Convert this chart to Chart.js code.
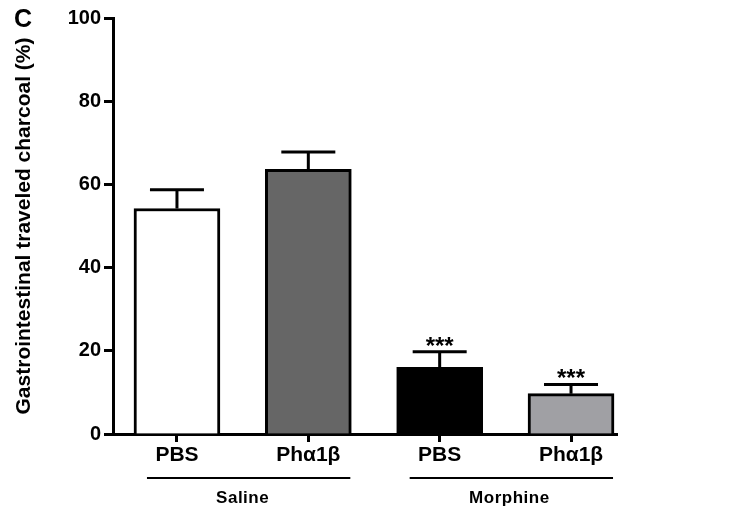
<!DOCTYPE html>
<html lang="en">
<head>
    <meta charset="UTF-8">
    <title>Gastrointestinal transit</title>
    <script src="https://cdn.jsdelivr.net/npm/chart.js"></script>
    <style>
        html, body { margin: 0; padding: 0; background: #fff; }
        #wrap { width: 729px; height: 510px; position: relative; }
    </style>
</head>
<body>
    <div id="wrap"><canvas id="transitChart"></canvas></div>

    <script>
        // Groups and treatments
        const treatments = ['PBS', 'Ph\u03B11\u03B2', 'PBS', 'Ph\u03B11\u03B2'];
        const groups = ['Saline', 'Morphine'];
        const positions = [1, 2, 3, 4];

        // Charcoal travel (%) and SEM
        const means = [54.2, 63.6, 16.0, 9.7];
        const sems = [4.5, 4.2, 3.8, 2.2];
        const marks = ['', '', '***', '***'];
        const barColors = ['#ffffff', '#666666', '#000000', '#a0a0a4'];

        const yTicks = [0, 20, 40, 60, 80, 100];

        const FONT = 'Arial, "Liberation Sans", sans-serif';

        // Error bars, significance stars, group underlines and labels
        const annotations = {
            id: 'annotations',
            afterDatasetsDraw(chart) {
                const ctx = chart.ctx;
                const x = chart.scales.x;
                const y = chart.scales.y;
                const bars = chart.getDatasetMeta(0).data;
                ctx.save();
                ctx.strokeStyle = '#000';
                ctx.fillStyle = '#000';
                ctx.lineWidth = 3;
                bars.forEach((bar, i) => {
                    const top = y.getPixelForValue(means[i]);
                    const errTop = y.getPixelForValue(means[i] + sems[i]);
                    ctx.beginPath();
                    ctx.moveTo(bar.x, top);
                    ctx.lineTo(bar.x, errTop);
                    ctx.moveTo(bar.x - 27, errTop);
                    ctx.lineTo(bar.x + 27, errTop);
                    ctx.stroke();
                    if (marks[i]) {
                        ctx.font = 'bold 24px ' + FONT;
                        ctx.textAlign = 'center';
                        ctx.textBaseline = 'alphabetic';
                        ctx.fillText(marks[i], bar.x, errTop + 2);
                    }
                });

                // group underline + name under each pair of treatments
                const lineY = chart.chartArea.bottom + 44;
                ctx.lineWidth = 2;
                groups.forEach((g, gi) => {
                    const a = x.getPixelForValue(positions[gi * 2]);
                    const b = x.getPixelForValue(positions[gi * 2 + 1]);
                    ctx.beginPath();
                    ctx.moveTo(a - 30, lineY);
                    ctx.lineTo(b + 42, lineY);
                    ctx.stroke();
                    ctx.font = 'bold 17px ' + FONT;
                    ctx.letterSpacing = '0.5px';
                    ctx.textAlign = 'center';
                    ctx.textBaseline = 'middle';
                    ctx.fillText(g, (a + b) / 2 + (gi ? 4 : 0), lineY + 20);
                });
                ctx.letterSpacing = '0px';

                // panel letter
                ctx.font = 'bold 25px ' + FONT;
                ctx.textAlign = 'left';
                ctx.textBaseline = 'middle';
                ctx.fillText('C', 14, 20);
                ctx.restore();
            }
        };

        new Chart(document.getElementById('transitChart'), {
            type: 'bar',
            data: {
                datasets: [{
                    data: positions.map((p, i) => ({ x: p, y: means[i] })),
                    backgroundColor: barColors,
                    borderColor: '#000',
                    borderWidth: 3,
                    borderSkipped: 'bottom',
                    barThickness: 86
                }]
            },
            options: {
                responsive: true,
                maintainAspectRatio: false,
                animation: false,
                devicePixelRatio: 1,
                layout: { padding: { top: 18, right: 112, left: 0, bottom: 0 } },
                plugins: {
                    legend: { display: false },
                    tooltip: { enabled: false }
                },
                scales: {
                    x: {
                        type: 'linear',
                        offset: false,
                        min: 0.513,
                        max: 4.35,
                        afterBuildTicks(scale) {
                            scale.ticks = positions.map(v => ({ value: v }));
                        },
                        afterFit(scale) { scale.height = 76; },
                        border: { display: true, color: '#000', width: 3 },
                        grid: {
                            offset: false,
                            drawOnChartArea: false,
                            drawTicks: true,
                            tickLength: 8,
                            tickWidth: 3,
                            tickColor: '#000'
                        },
                        ticks: {
                            autoSkip: false,
                            maxRotation: 0,
                            padding: 1,
                            color: '#000',
                            font: { family: FONT, size: 21, weight: 'bold' },
                            callback: (v) => treatments[positions.indexOf(v)] || ''
                        }
                    },
                    y: {
                        min: 0,
                        max: 100,
                        afterBuildTicks(scale) {
                            scale.ticks = yTicks.map(v => ({ value: v }));
                        },
                        afterFit(scale) { scale.width = 113; },
                        border: { display: true, color: '#000', width: 3 },
                        grid: {
                            drawOnChartArea: false,
                            tickLength: 9,
                            tickWidth: 3,
                            tickColor: '#000'
                        },
                        ticks: {
                            padding: 3,
                            color: '#000',
                            font: { family: FONT, size: 20, weight: 'bold' }
                        },
                        title: {
                            display: true,
                            text: 'Gastrointestinal traveled charcoal (%)',
                            color: '#000',
                            font: { family: FONT, size: 21, weight: 'bold' },
                            padding: { top: 12, bottom: 0 }
                        }
                    }
                }
            },
            plugins: [annotations]
        });
    </script>
</body>
</html>
